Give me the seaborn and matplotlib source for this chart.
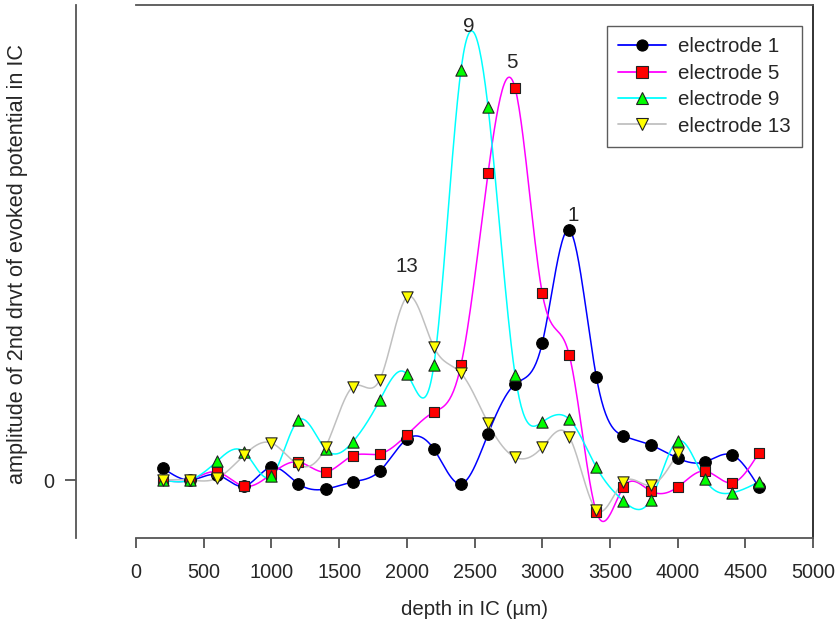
import numpy as np
import pandas as pd
import matplotlib
matplotlib.use("Agg")
import matplotlib.pyplot as plt
import seaborn as sns
from matplotlib.lines import Line2D

# --------------------------------------------------
# Data
# --------------------------------------------------

depth = [200, 400, 600, 800, 1000, 1200, 1400, 1600, 1800, 2000, 2200, 2400,
         2600, 2800, 3000, 3200, 3400, 3600, 3800, 4000, 4200, 4400, 4600]

electrode_1 = [2.5, 0.0, 1.1, -1.3, 2.7, -0.8, -1.9, -0.4, 1.9, 8.6, 6.5, -0.8,
               9.7, 20.2, 28.8, 52.6, 21.7, 9.3, 7.4, 4.6, 3.8, 5.3, -1.5]

electrode_5 = [0.0, 0.0, 1.7, -1.3, 1.3, 3.8, 1.7, 5.1, 5.5, 9.5, 14.3, 24.2,
               64.6, 82.5, 39.4, 26.3, -6.7, -1.5, -2.3, -1.5, 1.9, -0.6, 5.7]

electrode_9 = [0.0, 0.0, 4.0, 5.9, 0.8, 12.6, 6.5, 8.0, 16.8, 22.3, 24.2, 86.3,
               78.5, 22.1, 12.2, 12.8, 2.7, -4.4, -4.2, 8.2, 0.2, -2.7, -0.4]

electrode_13 = [0.0, 0.0, 0.4, 5.3, 7.8, 3.2, 6.9, 19.6, 21.1, 38.5, 28.0, 22.5,
                12.0, 4.8, 6.9, 9.1, -6.3, -0.4, -1.1, 5.7]

series_names = ["electrode 1", "electrode 5", "electrode 9", "electrode 13"]
series_values = [electrode_1, electrode_5, electrode_9, electrode_13]

peak_labels = ["1", "5", "9", "13"]
peak_positions = [(3228, 55.6), (2777, 88.0), (2459, 95.4), (2001, 45.0)]

line_colors = ["#0000FF", "#FF00FF", "#00FFFF", "#C0C0C0"]
marker_faces = ["black", "#FF0000", "#00FF00", "#FFFF00"]
marker_shapes = ["o", "s", "^", "v"]
marker_sizes = [70, 62, 66, 66]


def natural_spline(x, y, n=600):
    # plain natural cubic spline, only used to draw the smooth line
    x = np.asarray(x, float)
    y = np.asarray(y, float)
    k = len(x)
    h = np.diff(x)
    A = np.zeros((k, k))
    b = np.zeros(k)
    A[0, 0] = 1.0
    A[-1, -1] = 1.0
    for i in range(1, k - 1):
        A[i, i - 1] = h[i - 1]
        A[i, i] = 2 * (h[i - 1] + h[i])
        A[i, i + 1] = h[i]
        b[i] = 3 * ((y[i + 1] - y[i]) / h[i] - (y[i] - y[i - 1]) / h[i - 1])
    c = np.linalg.solve(A, b)
    xs = np.linspace(x[0], x[-1], n)
    idx = np.clip(np.searchsorted(x, xs) - 1, 0, k - 2)
    dx = xs - x[idx]
    bb = (y[idx + 1] - y[idx]) / h[idx] - h[idx] * (2 * c[idx] + c[idx + 1]) / 3
    dd = (c[idx + 1] - c[idx]) / (3 * h[idx])
    ys = y[idx] + bb * dx + c[idx] * dx ** 2 + dd * dx ** 3
    return xs, ys


# --------------------------------------------------
# Style
# --------------------------------------------------

sns.set_style("ticks")
plt.rcParams["font.family"] = ["Liberation Sans", "DejaVu Sans"]
plt.rcParams["font.size"] = 14

fig = plt.figure(figsize=(8.39, 6.24), dpi=100)
ax = fig.add_axes([136 / 839, 86 / 624, 677 / 839, 533 / 624])

# --------------------------------------------------
# Curves and markers
# --------------------------------------------------

handles = []
for name, vals, lc, mf, ms, sz in zip(series_names, series_values, line_colors,
                                       marker_faces, marker_shapes, marker_sizes):
    xs = depth[:len(vals)]
    sx, sy = natural_spline(xs, vals)
    curve = pd.DataFrame({"depth": sx, "amp": sy})
    sns.lineplot(data=curve, x="depth", y="amp", ax=ax, color=lc,
                 linewidth=1.1, sort=False, estimator=None, zorder=2)
    pts = pd.DataFrame({"depth": xs, "amp": vals})
    edge = "black" if mf == "black" else "#222222"
    sns.scatterplot(data=pts, x="depth", y="amp", ax=ax, marker=ms, s=sz,
                    color=mf, edgecolor=edge, linewidth=0.8, zorder=3)
    handles.append(Line2D([0], [0], color=lc, linewidth=1.3, marker=ms,
                          markersize=8, markerfacecolor=mf,
                          markeredgecolor=edge, markeredgewidth=0.8,
                          label=name))

for lab, (px, py) in zip(peak_labels, peak_positions):
    ax.text(px, py, lab, ha="center", va="center", fontsize=14.8)

# --------------------------------------------------
# Axes
# --------------------------------------------------

ax.set_xlim(0, 5000)
ax.set_ylim(-12.2, 100)
ax.set_xticks(np.arange(0, 5001, 500))
ax.set_yticks([0])
ax.set_yticklabels(["0"])
ax.tick_params(axis="x", length=7, width=1.1, color="#333333", labelsize=14.3, pad=11)
ax.tick_params(axis="y", length=8, width=1.1, color="#333333", labelsize=14.3, pad=8)

for side in ["left", "right", "top", "bottom"]:
    ax.spines[side].set_visible(True)
    ax.spines[side].set_color("#555555")
    ax.spines[side].set_linewidth(1.3)
ax.spines["right"].set_color("#222222")
ax.spines["left"].set_position(("outward", 43.2))

ax.set_xlabel("depth in IC (µm)", fontsize=14.8)
ax.xaxis.set_label_coords(0.5, -0.117)
ax.set_ylabel("amplitude of 2nd drvt of evoked potential in IC", fontsize=15.6)
ax.yaxis.set_label_coords(-0.1595, 0.514)

leg = ax.legend(handles=handles, loc="upper right", bbox_to_anchor=(0.9838, 0.9606),
                frameon=True, fancybox=False, fontsize=14.8, handlelength=2.33,
                borderpad=0.55, labelspacing=0.36, handletextpad=0.58,
                borderaxespad=0.0)
leg.get_frame().set_edgecolor("#333333")
leg.get_frame().set_linewidth(1.0)

fig.savefig("out.png", dpi=100)
